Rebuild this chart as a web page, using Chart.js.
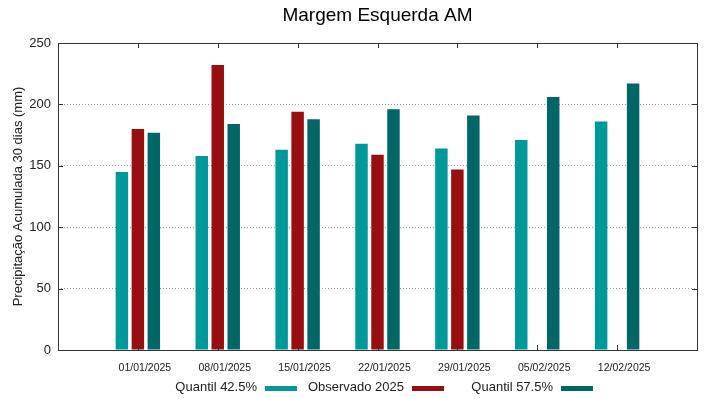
<!DOCTYPE html>
<html>
<head>
	<title>Margem Esquerda AM</title>
	<script src="https://cdn.jsdelivr.net/npm/chart.js"></script>
	<style>
		body { margin: 0; background: #fff; }
		#wrap { width: 719px; height: 399px; }
	</style>
</head>
<body>
	<div id="wrap"><canvas id="chuvaChart" width="719" height="399"></canvas></div>
	<script>
		// empty labels at both ends keep a blank slot either side, like the original
		var datas = ['', '01/01/2025', '08/01/2025', '15/01/2025', '22/01/2025', '29/01/2025', '05/02/2025', '12/02/2025', ''];
		var quantil425 = [null, 145, 158, 163, 168, 164, 171, 186, null];
		var observado2025 = [null, 180, 232, 194, 159, 147, null, null, null];
		var quantil575 = [null, 177, 184, 188, 196, 191, 206, 217, null];
		var yTicks = [0, 50, 100, 150, 200, 250];
		var titulo = 'Margem Esquerda AM';

		var fonte = 'Liberation Sans, Arial, sans-serif';

		// title over the plot area, frame, inward tick marks and gnuplot-like legend (text then swatch)
		var molduraPlugin = {
			id: 'moldura',
			afterDraw: function(chart) {
				var c = chart.ctx, a = chart.chartArea;
				var xs = chart.scales.x, ys = chart.scales.y;
				c.save();

				c.fillStyle = '#000';
				c.font = '19px ' + fonte;
				c.textAlign = 'center';
				c.textBaseline = 'middle';
				c.fillText(titulo, (a.left + a.right) / 2, 16);

				c.strokeStyle = '#333';
				c.lineWidth = 1;
				c.strokeRect(Math.round(a.left) + 0.5, Math.round(a.top) + 0.5, Math.round(a.right - a.left), Math.round(a.bottom - a.top));
				c.beginPath();
				for (var i = 1; i < datas.length - 1; i++) {
					var px = Math.round(xs.getPixelForValue(i)) + 0.5;
					c.moveTo(px, a.top); c.lineTo(px, a.top + 5);
					c.moveTo(px, a.bottom); c.lineTo(px, a.bottom - 5);
				}
				yTicks.forEach(function(v) {
					if (v === 0 || v === 250) return;
					var py = Math.round(ys.getPixelForValue(v)) + 0.5;
					c.moveTo(a.left, py); c.lineTo(a.left + 5, py);
					c.moveTo(a.right, py); c.lineTo(a.right - 5, py);
				});
				c.stroke();

				var fimTexto = [257, 404, 553];
				c.font = '13px ' + fonte;
				c.textAlign = 'right';
				c.textBaseline = 'middle';
				chart.data.datasets.forEach(function(ds, k) {
					c.fillStyle = '#222';
					c.fillText(ds.label, fimTexto[k], 387);
					c.fillStyle = ds.backgroundColor;
					c.fillRect(fimTexto[k] + 8, 386, 32, 5);
				});
				c.restore();
			}
		};

		var ctx = document.getElementById('chuvaChart').getContext('2d');
		var chart = new Chart(ctx, {
			type: 'bar',
			data: {
				labels: datas,
				datasets: [{
					label: 'Quantil 42.5%',
					data: quantil425,
					backgroundColor: '#009999'
				}, {
					label: 'Observado 2025',
					data: observado2025,
					backgroundColor: '#990e0e'
				}, {
					label: 'Quantil 57.5%',
					data: quantil575,
					backgroundColor: '#006666'
				}]
			},
			options: {
				responsive: false,
				animation: false,
				categoryPercentage: 0.6,
				barPercentage: 0.78,
				layout: { padding: { top: 43, right: 22, left: 0, bottom: 0 } },
				plugins: {
					legend: { display: false },
					tooltip: { enabled: false },
					title: { display: false }
				},
				scales: {
					x: {
						offset: false,
						grid: { display: false, drawTicks: false },
						border: { display: false },
						ticks: {
							autoSkip: false,
							maxRotation: 0,
							padding: 12,
							labelOffset: 7,
							color: '#222',
							font: { family: fonte, size: 10.5 }
						},
						afterFit: function(s) { s.height = 49; }
					},
					y: {
						min: 0,
						max: 250,
						ticks: {
							stepSize: 50,
							padding: 7,
							color: '#222',
							font: { family: fonte, size: 13 }
						},
						grid: {
							drawTicks: false,
							color: function(c) {
								return (c.tick && (c.tick.value === 0 || c.tick.value === 250)) ? 'rgba(0,0,0,0)' : '#a0a0a0';
							},
							tickBorderDash: [1, 2]
						},
						border: { display: false, dash: [1, 2] },
						title: {
							display: true,
							text: 'Precipitação Acumulada 30 dias (mm)',
							color: '#222',
							font: { family: fonte, size: 13 },
							padding: { top: 11, bottom: 0 }
						},
						afterFit: function(s) { s.width = 58; }
					}
				}
			},
			plugins: [molduraPlugin]
		});
	</script>
</body>
</html>
